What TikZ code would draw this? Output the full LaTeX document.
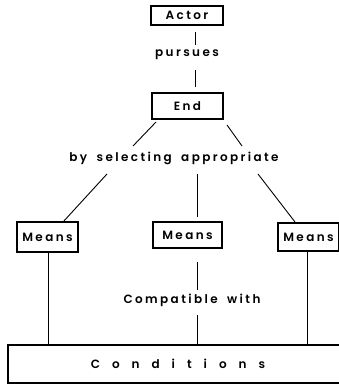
\documentclass[tikz,border=0pt]{standalone}
\usepackage{fontspec}
\setmainfont{Poppins}[LetterSpace=20,WordSpace=1.8,BoldFont={Poppins SemiBold}]
\newfontfamily\widefont{Poppins}[LetterSpace=100,BoldFont={Poppins SemiBold}]
\begin{document}
\begin{tikzpicture}[x=1pt,y=-1pt,
  box/.style={draw,line width=1.1pt,inner sep=0pt,font=\fontsize{12}{14}\selectfont\bfseries},
  lbl/.style={inner sep=0pt,font=\fontsize{12}{14}\selectfont\bfseries},
  link/.style={line width=0.9pt}]
\useasboundingbox (0,0) rectangle (338,385);

% boxes
\node[box,minimum width=72pt,minimum height=19pt] (actor) at (187,15.5) {Actor\hspace{7pt}};
\node[box,minimum width=71pt,minimum height=26pt] (endb) at (187.5,106) {End\hspace{13pt}};
\node[box,minimum width=61pt,minimum height=30pt] (m1) at (47.5,237) {Means};
\node[box,minimum width=69pt,minimum height=26pt] (m2) at (187.5,235) {Means\hspace{5pt}};
\node[box,minimum width=61pt,minimum height=28pt] (m3) at (308.5,237) {Means};
\node[box,minimum width=340pt,minimum height=38pt] (cond) at (178,364) {\widefont\bfseries Conditions\hspace{-2pt}};

% link labels
\node[lbl] (pur) at (187,55) {pursues};
\node[lbl] (sel) at (174,158) {by selecting appropriate};
\node[lbl] (comp) at (192,300) {Compatible with};

% free ends of the links around the labels
\coordinate (p1) at (195,32);
\coordinate (p2) at (195,45);
\coordinate (p3) at (195,70);
\coordinate (p4) at (195,87);
\coordinate (a1) at (156,122);
\coordinate (a2) at (133,146);
\coordinate (b1) at (227,125);
\coordinate (b2) at (242,146);
\coordinate (c1) at (107,174);
\coordinate (c2) at (63,222);
\coordinate (d1) at (197,174);
\coordinate (d2) at (197,217);
\coordinate (e1) at (258,174);
\coordinate (e2) at (295,222);
\coordinate (f1) at (197,262);
\coordinate (f2) at (197,290);
\coordinate (f3) at (197,315);

\draw[link] (p1) -- (p2);
\draw[link] (p3) -- (p4);
\draw[link] (a1) -- (a2);
\draw[link] (b1) -- (b2);
\draw[link] (c1) -- (c2);
\draw[link] (d1) -- (d2);
\draw[link] (e1) -- (e2);
\draw[link] (f1) -- (f2);
\draw[link] (f3) -- (cond.north -| f3);
\draw[link] (m1.south -| 48,0) -- (cond.north -| 48,0);
\draw[link] (m3.south -| 307,0) -- (cond.north -| 307,0);
\end{tikzpicture}
\end{document}
